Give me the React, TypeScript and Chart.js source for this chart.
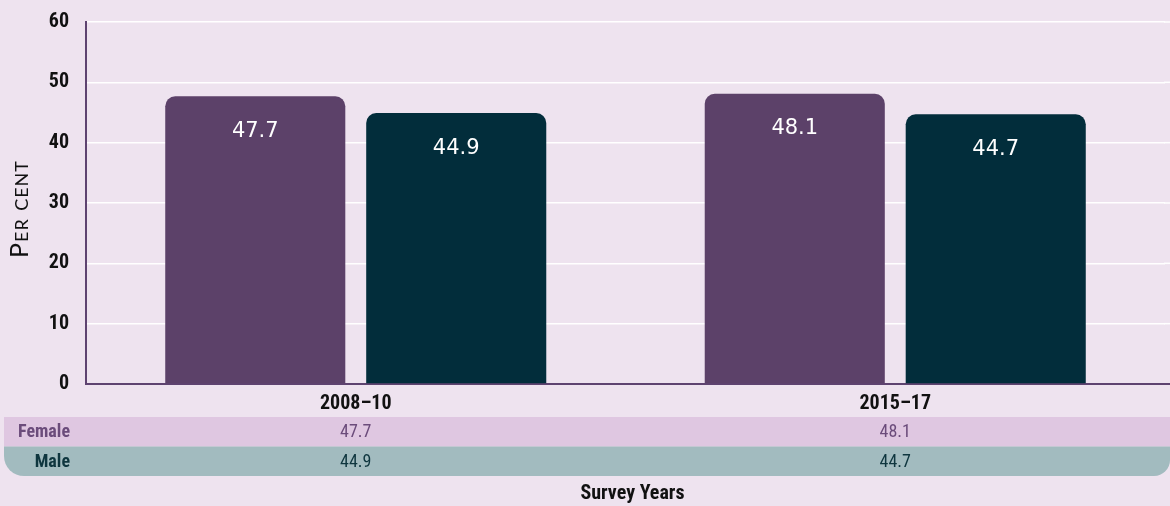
import React, { useEffect, useRef } from 'react';
import { Chart, registerables } from 'chart.js';
Chart.register(...registerables);

const categories = ['2008–10', '2015–17'];
const seriesNames = ['Female', 'Male'];
const femaleValues = [47.7, 48.1];
const maleValues = [44.9, 44.7];
const yMin = 0;
const yMax = 60;
const yStep = 10;
const xAxisTitle = 'Survey Years';
const yAxisTitle = 'Per cent';

const BG = '#eee3ef';
const FEMALE = '#5c4169';
const MALE = '#022d3b';
const FEMALE_ROW = '#dfc7e1';
const MALE_ROW = '#a2bbbf';
const FEMALE_TEXT = '#6b4c7b';
const MALE_TEXT = '#0f363f';
const AXIS = '#5e4370';
const COND = "'Liberation Sans Narrow', 'Roboto Condensed', 'Arial Narrow', Roboto, sans-serif";

// extends grid lines and the base axis line past the plot area to the canvas edge
const gridExtendPlugin = {
  id: 'gridExtend',
  beforeDatasetsDraw(chart: any) {
    const ctx = chart.ctx;
    const area = chart.chartArea;
    const ys = chart.scales.y;
    ctx.save();
    ys.ticks.forEach((t: any) => {
      const y = ys.getPixelForValue(t.value);
      ctx.beginPath();
      if (t.value === yMin) {
        ctx.strokeStyle = AXIS;
        ctx.lineWidth = 2;
        const yy = Math.round(y);
        ctx.moveTo(area.right - 2, yy);
        ctx.lineTo(chart.width, yy);
      } else {
        ctx.strokeStyle = '#ffffff';
        ctx.lineWidth = 1.5;
        ctx.moveTo(area.right - 1, y);
        ctx.lineTo(chart.width, y);
      }
      ctx.stroke();
    });
    ctx.restore();
  },
};

const barLabelPlugin = {
  id: 'barLabels',
  afterDatasetsDraw(chart: any) {
    const ctx = chart.ctx;
    ctx.save();
    ctx.fillStyle = '#ffffff';
    ctx.font = "21px 'DejaVu Sans', sans-serif";
    ctx.textAlign = 'center';
    ctx.textBaseline = 'middle';
    chart.data.datasets.forEach((ds: any, di: number) => {
      const meta = chart.getDatasetMeta(di);
      meta.data.forEach((el: any, i: number) => {
        ctx.fillText(String(ds.data[i]), el.x, el.y + 35);
      });
    });
    ctx.restore();
  },
};

const tablePlugin = {
  id: 'dataTable',
  afterDraw(chart: any) {
    const ctx = chart.ctx;
    const area = chart.chartArea;
    const xs = chart.scales.x;
    const W = chart.width;
    const left = 4;
    const rowH = 29.5;
    const top1 = area.bottom + 33;
    const top2 = top1 + rowH;
    ctx.save();
    ctx.fillStyle = FEMALE_ROW;
    ctx.fillRect(left, top1, W - left, rowH);
    ctx.fillStyle = MALE_ROW;
    ctx.beginPath();
    ctx.roundRect(left, top2, W - left, rowH, [0, 0, 16, 20]);
    ctx.fill();

    const rows = [
      { name: seriesNames[0], values: femaleValues, color: FEMALE_TEXT, top: top1 },
      { name: seriesNames[1], values: maleValues, color: MALE_TEXT, top: top2 },
    ];
    ctx.textBaseline = 'middle';
    rows.forEach((r) => {
      const cy = r.top + rowH / 2 + 1;
      ctx.font = `bold 18px ${COND}`;
      ctx.fillStyle = r.color;
      ctx.textAlign = 'right';
      ctx.fillText(r.name, 70, cy);
      ctx.font = `18px ${COND}`;
      ctx.textAlign = 'center';
      r.values.forEach((v, i) => {
        ctx.fillText(v.toFixed(1), xs.getPixelForValue(i), cy);
      });
    });

    ctx.font = `bold 20px ${COND}`;
    ctx.fillStyle = '#111111';
    ctx.textAlign = 'center';
    ctx.fillText(xAxisTitle, (area.left + area.right) / 2 + 7, top2 + rowH + 18);

    ctx.translate(20, (area.top + area.bottom) / 2 + 6);
    ctx.rotate(-Math.PI / 2);
    ctx.font = "25px Lato, 'Open Sans', sans-serif";
    (ctx as any).fontVariantCaps = 'small-caps';
    (ctx as any).letterSpacing = '1px';
    ctx.fillStyle = '#111111';
    ctx.textAlign = 'center';
    ctx.fillText(yAxisTitle, 0, 0);
    ctx.restore();
  },
};

export default function App() {
  const ref = useRef<HTMLCanvasElement>(null);
  useEffect(() => {
    document.body.style.margin = '0';
    document.body.style.background = BG;
    const radius = { topLeft: 10, topRight: 10, bottomLeft: 0, bottomRight: 0 };
    const chart = new Chart(ref.current!, {
      type: 'bar',
      data: {
        labels: categories,
        datasets: [
          {
            label: seriesNames[0],
            data: femaleValues,
            backgroundColor: FEMALE,
            borderRadius: radius,
            borderSkipped: false,
            categoryPercentage: 0.745,
            barPercentage: 0.896,
          },
          {
            label: seriesNames[1],
            data: maleValues,
            backgroundColor: MALE,
            borderRadius: radius,
            borderSkipped: false,
            categoryPercentage: 0.745,
            barPercentage: 0.896,
          },
        ],
      },
      options: {
        animation: false,
        responsive: false,
        maintainAspectRatio: false,
        layout: { padding: { top: 22, left: 0, right: 5, bottom: 0 } },
        plugins: {
          legend: { display: false },
          tooltip: { enabled: false },
        },
        scales: {
          x: {
            grid: { display: false, drawTicks: false },
            border: { display: true, color: AXIS, width: 2 },
            ticks: {
              color: '#111111',
              font: { family: COND, size: 20, weight: 'bold' },
              padding: 8,
            },
            afterFit: (s: any) => {
              s.height = 122;
              s.paddingLeft = 0;
              s.paddingRight = 0;
            },
          },
          y: {
            min: yMin,
            max: yMax,
            ticks: {
              stepSize: yStep,
              color: '#111111',
              font: { family: COND, size: 20, weight: 'bold' },
              padding: 17,
            },
            grid: { color: '#ffffff', lineWidth: 1.5, drawTicks: false },
            border: { display: true, color: AXIS, width: 2 },
            afterFit: (s: any) => {
              s.width = 86;
              s.paddingTop = 0;
              s.paddingBottom = 0;
            },
          },
        },
      } as any,
      plugins: [gridExtendPlugin, barLabelPlugin, tablePlugin],
    });
    return () => chart.destroy();
  }, []);
  return (
    <div style={{ width: 1170, height: 506, background: BG }}>
      <canvas ref={ref} width={1170} height={506} />
    </div>
  );
}
